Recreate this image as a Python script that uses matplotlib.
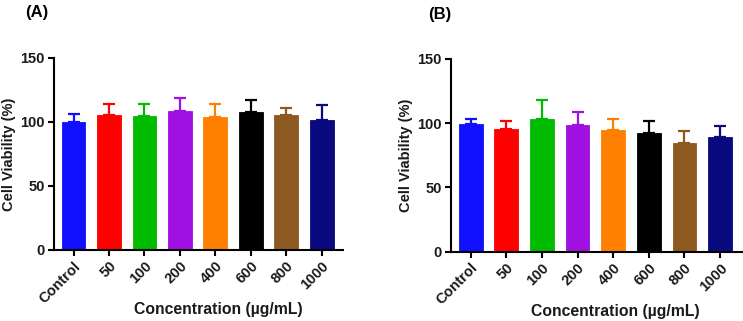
import matplotlib

matplotlib.use("agg")

import matplotlib.pyplot as plt

plt.rcParams["font.family"] = ["Liberation Sans", "DejaVu Sans"]
plt.rcParams["font.weight"] = "bold"

labels = ["Control", "50", "100", "200", "400", "600", "800", "1000"]
viability_a = [99.5, 105.0, 104.5, 108.5, 103.8, 108.0, 105.0, 101.5]
err_a = [6.3, 9.0, 9.2, 10.0, 10.2, 9.2, 5.6, 11.8]
viability_b = [99.5, 95.2, 103.0, 98.2, 94.4, 92.0, 84.8, 89.0]
err_b = [3.3, 6.4, 14.7, 10.1, 8.8, 9.5, 9.3, 9.0]
colors = ["#1010ff", "#ff0000", "#00bb00", "#a010e0", "#ff8000", "#000000", "#8c5a20", "#0a0a80"]


def panel(ax, values, errors):
    x = range(len(labels))
    ax.bar(x, values, width=0.67, color=colors, edgecolor=colors, linewidth=0.6, zorder=2)
    for xi, v, e, c in zip(x, values, errors, colors):
        ax.errorbar(xi, v, yerr=[[0], [e]], fmt="none", ecolor=c, elinewidth=1.6,
                    capsize=4.2, capthick=1.6, zorder=1)
    ax.set_ylim(0, 150)
    ax.set_xlim(-0.55, 7.6)
    ax.set_yticks([0, 50, 100, 150])
    ax.set_xticks(list(x))
    ax.set_xticklabels(labels, rotation=45, ha="right", rotation_mode="anchor")
    ax.tick_params(axis="both", labelsize=10.5, width=1.5, length=4.5, direction="out", pad=2,
                   labelcolor="#1a1a1a")
    ax.spines["top"].set_visible(False)
    ax.spines["right"].set_visible(False)
    ax.spines["left"].set_linewidth(1.5)
    ax.spines["bottom"].set_linewidth(1.5)
    for t in ax.get_xticklabels() + ax.get_yticklabels():
        t.set_fontweight("bold")
    ax.set_ylabel("Cell Viability (%)", fontsize=10.5, fontweight="bold", labelpad=3,
                  color="#1a1a1a")
    ax.set_xlabel("Concentration (\u00b5g/mL)", fontsize=11.3, fontweight="bold",
                  color="#1a1a1a")
    # the x label sits right of centre, as in the original figure
    ax.xaxis.set_label_coords(0.567, -0.31)
    ax.xaxis.label.set_va("center")


fig = plt.figure(figsize=(7.43, 3.21), dpi=100)
ax_a = fig.add_axes((0.0727, 0.2212, 0.389, 0.599))
ax_b = fig.add_axes((0.607, 0.216, 0.391, 0.601))
panel(ax_a, viability_a, err_a)
panel(ax_b, viability_b, err_b)
fig.text(25 / 743, 1 - 13 / 321, "(A)", fontsize=12, fontweight="bold", va="center")
fig.text(428 / 743, 1 - 15 / 321, "(B)", fontsize=12, fontweight="bold", va="center")

fig.savefig("out.png", dpi=100)
